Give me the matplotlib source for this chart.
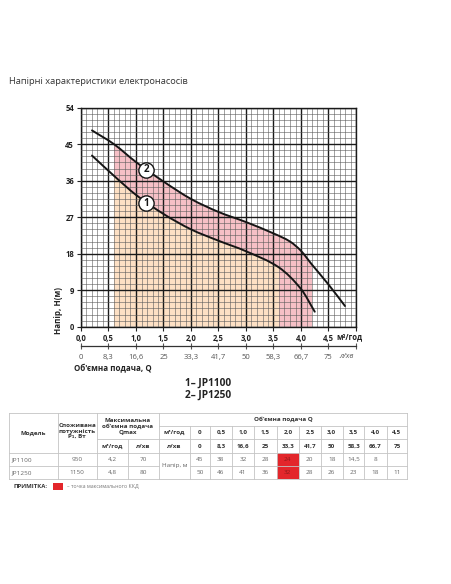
import numpy as np
import matplotlib
matplotlib.use('Agg')
import matplotlib.pyplot as plt
from matplotlib.path import Path
from matplotlib.patches import PathPatch, Rectangle
from matplotlib import font_manager

plt.rcParams['font.family'] = ['Open Sans', 'DejaVu Sans']

# ---------------- data ----------------
TITLE = 'Напірні характеристики електронасосів'
flow_values = [0.0, 0.5, 1.0, 1.5, 2.0, 2.5, 3.0, 3.5, 4.0, 4.5]
flow_m3 = ['0', '0,5', '1,0', '1,5', '2,0', '2,5', '3,0', '3,5', '4,0', '4,5']
flow_m3_axis = ['0,0', '0,5', '1,0', '1,5', '2,0', '2,5', '3,0', '3,5', '4,0', '4,5']
flow_lpm = ['0', '8,3', '16,6', '25', '33,3', '41,7', '50', '58,3', '66,7', '75']
head_ticks = [0, 9, 18, 27, 36, 45, 54]

models = ['JP1100', 'JP1250']
power_w = ['950', '1150']
qmax_m3 = ['4,2', '4,8']
qmax_lpm = ['70', '80']
head_jp1100 = ['45', '38', '32', '28', '24', '20', '18', '14,5', '8', '']
head_jp1250 = ['50', '46', '41', '36', '32', '28', '26', '23', '18', '11']
best_eff_index = 4

# curves (Q in m3/h, H in m)
curve1_q = [0.2, 0.6, 1.0, 1.5, 2.0, 2.5, 3.0, 3.6, 4.0, 4.25]
curve1_h = [42.2, 37.2, 32.5, 27.8, 24.0, 21.2, 18.6, 14.6, 9.3, 3.7]
curve2_q = [0.2, 0.6, 1.0, 1.5, 2.0, 2.5, 3.0, 3.5, 3.8, 4.0, 4.2, 4.5, 4.8]
curve2_h = [48.4, 45.0, 40.6, 35.8, 31.5, 28.3, 25.8, 23.0, 21.0, 18.7, 15.3, 10.4, 5.1]
curve_labels = ['1', '2']
label_pos_q = [1.19, 1.19]
label_pos_h = [30.4, 38.7]

zone_start, zone_mid, zone_end = 0.6, 3.6, 4.2

C_ORANGE = '#fde0c4'
C_PINK = '#f6c0c6'
C_RED = '#e3262b'

W, H = 452, 584
fig = plt.figure(figsize=(W / 100, H / 100), dpi=100)

avail = {f.name for f in font_manager.fontManager.ttflist}
NARROW = ['Liberation Sans Narrow'] if 'Liberation Sans Narrow' in avail else []
TFAM = NARROW + ['Open Sans', 'DejaVu Sans']


def fr(x0, y0, x1, y1):
    return [x0 / W, 1 - y1 / H, (x1 - x0) / W, (y1 - y0) / H]


ax = fig.add_axes(fr(81, 107.7, 356, 326.7))
ax.set_xlim(0, 5)
ax.set_ylim(0, 54)


def hermite_segs(xs, ys):
    xs = np.asarray(xs, float)
    ys = np.asarray(ys, float)
    n = len(xs)
    m = np.zeros(n)
    m[0] = (ys[1] - ys[0]) / (xs[1] - xs[0])
    m[-1] = (ys[-1] - ys[-2]) / (xs[-1] - xs[-2])
    for i in range(1, n - 1):
        m[i] = (ys[i + 1] - ys[i - 1]) / (xs[i + 1] - xs[i - 1])
    segs = []
    for i in range(n - 1):
        h = xs[i + 1] - xs[i]
        segs.append(((xs[i] + h / 3, ys[i] + m[i] * h / 3),
                     (xs[i + 1] - h / 3, ys[i + 1] - m[i + 1] * h / 3),
                     (xs[i + 1], ys[i + 1])))
    return segs


segs1 = hermite_segs(curve1_q, curve1_h)
segs2 = hermite_segs(curve2_q, curve2_h)

# fills
i0, i1 = curve1_q.index(zone_start), curve1_q.index(zone_mid)
j0, j1 = curve2_q.index(zone_start), curve2_q.index(zone_end)

verts = [(zone_start, 0), (zone_start, curve1_h[i0])]
codes = [Path.MOVETO, Path.LINETO]
for s in segs1[i0:i1]:
    verts += list(s)
    codes += [Path.CURVE4] * 3
verts += [(zone_mid, 0), (zone_start, 0)]
codes += [Path.LINETO, Path.CLOSEPOLY]
ax.add_patch(PathPatch(Path(verts, codes), fc=C_ORANGE, ec='none', zorder=1))

verts = [(zone_start, curve1_h[i0]), (zone_start, curve2_h[j0])]
codes = [Path.MOVETO, Path.LINETO]
for s in segs2[j0:j1]:
    verts += list(s)
    codes += [Path.CURVE4] * 3
verts += [(zone_end, 0), (zone_mid, 0), (zone_mid, curve1_h[i1])]
codes += [Path.LINETO] * 3
for k in range(i1 - 1, i0 - 1, -1):
    c1, c2, _ = segs1[k]
    verts += [c2, c1, (curve1_q[k], curve1_h[k])]
    codes += [Path.CURVE4] * 3
verts += [(zone_start, curve1_h[i0])]
codes += [Path.CLOSEPOLY]
ax.add_patch(PathPatch(Path(verts, codes), fc=C_PINK, ec='none', zorder=1))

# curves
for q, hh, segs in [(curve1_q, curve1_h, segs1), (curve2_q, curve2_h, segs2)]:
    verts = [(q[0], hh[0])]
    codes = [Path.MOVETO]
    for s in segs:
        verts += list(s)
        codes += [Path.CURVE4] * 3
    ax.add_patch(PathPatch(Path(verts, codes), fill=False, ec='#151515',
                           lw=1.4, zorder=4, capstyle='round'))

for lab, q, hh in zip(curve_labels, label_pos_q, label_pos_h):
    ax.plot([q], [hh], marker='o', ms=11, mfc='white', mec='#151515',
            mew=1.0, zorder=5)
    ax.text(q, hh, lab, ha='center', va='center', fontsize=7,
            fontweight='bold', color='#151515', zorder=6)

# grid
ax.set_axisbelow(False)
ax.set_xticks(flow_values + [5.0])
ax.set_xticklabels(flow_m3_axis + [''], fontweight='bold')
ax.set_yticks(head_ticks)
ax.set_yticklabels([str(v) for v in head_ticks], fontweight='bold')
ax.set_xticks(np.arange(0, 5.001, 0.1), minor=True)
ax.set_yticks(np.arange(0, 54.01, 1.5), minor=True)
ax.grid(which='major', color='#1a1a1a', lw=1.0)
ax.grid(which='minor', color='#5a5a5a', lw=0.4)
ax.tick_params(which='minor', length=0)
ax.tick_params(which='major', length=3, width=0.8, labelsize=5.5, pad=2,
               colors='#222')
for sp in ax.spines.values():
    sp.set_linewidth(1.0)
    sp.set_color('#1a1a1a')

sec = ax.secondary_xaxis(-0.087)
sec.set_xticks(flow_values + [5.0])
sec.set_xticklabels(flow_lpm + [''])
sec.tick_params(direction='inout', length=4, width=0.8, labelsize=5.5,
                colors='#555', pad=4)
sec.spines['bottom'].set_linewidth(0.9)
sec.spines['bottom'].set_color('#333')

# overlay in pixel coordinates
ov = fig.add_axes([0, 0, 1, 1], zorder=-1)
ov.set_xlim(0, W)
ov.set_ylim(H, 0)
ov.axis('off')

ov.text(9, 81, TITLE, ha='left', va='center', fontsize=6.7, color='#333')
ov.text(349, 337, 'м³/год', ha='center', va='center', fontsize=5.5,
        fontweight='bold', color='#222')
ov.text(347, 356, 'л/хв', ha='center', va='center', fontsize=5.5,
        color='#555', style='italic')
ov.text(58.7, 311, 'Напір, Н(м)', ha='center', va='center', rotation=90,
        fontsize=5.8, fontweight='bold', color='#222')
ov.text(74, 369, 'Об\'ємна подача, Q', ha='left', va='center', fontsize=5.8,
        fontweight='bold', color='#222')
ov.text(208, 383, '1– ' + models[0], ha='center', va='center', fontsize=7.3,
        fontweight='bold', color='#222')
ov.text(208, 395.5, '2– ' + models[1], ha='center', va='center', fontsize=7.3,
        fontweight='bold', color='#222')

# ---------------- table ----------------
LC = '#c4c4c4'
LW = 0.6
xL, xR = 9, 407.3
yA, yB, yC, yD, yE, yF = 413.3, 426, 439.3, 452.7, 466, 479
cx = [9, 57.7, 96.7, 127.7, 158.7, 190]
qx = [190, 210, 231.7, 254.3, 276.7, 299, 320.7, 342.7, 364.5, 386.7, 407.3]

# red cells
ov.add_patch(Rectangle((qx[best_eff_index], yD),
                       qx[best_eff_index + 1] - qx[best_eff_index],
                       yF - yD, fc=C_RED, ec='none', zorder=1))


def hl(x0, x1, y):
    ov.plot([x0, x1], [y, y], color=LC, lw=LW, zorder=2)


def vl(x, y0, y1):
    ov.plot([x, x], [y0, y1], color=LC, lw=LW, zorder=2)


hl(xL, xR, yA)
hl(cx[4], xR, yB)
hl(cx[2], xR, yC)
hl(xL, xR, yD)
hl(xL, cx[4], yE)
hl(cx[5], xR, yE)
hl(xL, xR, yF)
vl(xL, yA, yF)
vl(cx[1], yA, yF)
vl(cx[2], yA, yF)
vl(cx[3], yC, yF)
vl(cx[4], yA, yF)
for x in qx[:-1]:
    vl(x, yB, yF)
vl(xR, yA, yF)

HC = '#333'
DC = '#666'
fs_h = 5.0 if NARROW else 4.5
fs_d = 5.0 if NARROW else 4.6


def ctext(x0, x1, y, s, bold=True, color=HC, fs=None, **kw):
    ov.text((x0 + x1) / 2, y, s, ha='center', va='center',
            fontsize=fs if fs else (fs_h if bold else fs_d),
            fontweight='bold' if bold else 'normal', color=color,
            family=TFAM, linespacing=1.1, zorder=3, **kw)


ctext(cx[0], cx[1], (yA + yD) / 2, 'Модель')
ctext(cx[1], cx[2], 431, 'Споживана\nпотужність\nP₁, Вт')
ctext(cx[2], cx[4], (yA + yC) / 2, 'Максимальна\nоб\'ємна подача\nQmax')
ctext(cx[2], cx[3], (yC + yD) / 2, 'м³/год')
ctext(cx[3], cx[4], (yC + yD) / 2, 'л/хв')
ctext(cx[4], xR, (yA + yB) / 2, 'Об\'ємна подача Q')
ctext(cx[4], cx[5], (yB + yC) / 2, 'м³/год')
ctext(cx[4], cx[5], (yC + yD) / 2, 'л/хв')
ctext(cx[4], cx[5], (yD + yF) / 2, 'Напір, м', bold=False, color=DC)
for k in range(len(flow_m3)):
    ctext(qx[k], qx[k + 1], (yB + yC) / 2, flow_m3[k])
    ctext(qx[k], qx[k + 1], (yC + yD) / 2, flow_lpm[k])

for r, (yy0, yy1) in enumerate([(yD, yE), (yE, yF)]):
    ym = (yy0 + yy1) / 2
    ov.text(11, ym, models[r], ha='left', va='center', fontsize=fs_d,
            family=TFAM, color=DC, zorder=3)
    ctext(cx[1], cx[2], ym, power_w[r], bold=False, color=DC)
    ctext(cx[2], cx[3], ym, qmax_m3[r], bold=False, color=DC)
    ctext(cx[3], cx[4], ym, qmax_lpm[r], bold=False, color=DC)
    vals = head_jp1100 if r == 0 else head_jp1250
    for k, v in enumerate(vals):
        col = '#8e1a1a' if k == best_eff_index else DC
        ctext(qx[k], qx[k + 1], ym, v, bold=False, color=col)

# footnote
ov.text(14, 486, 'ПРИМІТКА:', ha='left', va='center', fontsize=4.3,
        fontweight='bold', color='#333', family=TFAM)
ov.add_patch(Rectangle((53.3, 482.5), 10, 7, fc=C_RED, ec='none'))
ov.text(67, 486, '– точка максимального ККД', ha='left', va='center',
        fontsize=3.8, color='#777', family=TFAM)

fig.savefig('out.png', dpi=100)
